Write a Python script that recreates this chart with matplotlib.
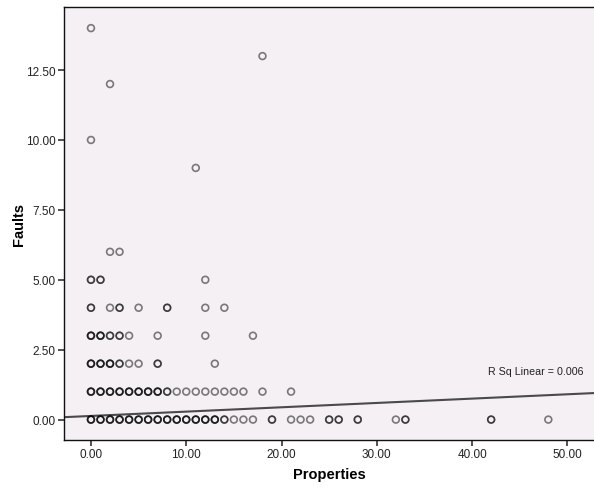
import numpy as np
import matplotlib
matplotlib.use('Agg')
import matplotlib.pyplot as plt

plt.rcParams['font.family'] = ['Liberation Sans', 'DejaVu Sans']

# properties values per faults level, and how many cases sit on each spot
f0_props = [0, 1, 2, 3, 4, 5, 6, 7, 8, 9, 10, 11, 12, 13, 14, 15, 16, 17,
            19, 21, 22, 23, 25, 26, 28, 32, 33, 42, 48]
f0_count = [3, 3, 3, 3, 3, 3, 3, 3, 3, 3, 3, 3, 3, 3, 2, 1, 1, 1,
            2, 1, 1, 1, 2, 2, 2, 1, 2, 2, 1]
f1_props = [0, 1, 2, 3, 4, 5, 6, 7, 8, 9, 10, 11, 12, 13, 14, 15, 16, 18, 21]
f1_count = [3, 3, 3, 3, 3, 3, 3, 3, 2, 1, 1, 1, 1, 1, 1, 1, 1, 1, 1]
f2_props = [0, 1, 2, 3, 4, 5, 7, 13]
f2_count = [3, 3, 3, 2, 1, 1, 2, 1]
f3_props = [0, 1, 2, 3, 4, 7, 12, 17]
f3_count = [3, 3, 2, 2, 1, 1, 1, 1]
f4_props = [0, 2, 3, 5, 8, 12, 14]
f4_count = [2, 1, 2, 1, 2, 1, 1]
f5_props = [0, 1, 12]
f5_count = [2, 2, 1]
f6_props = [2, 3]
f6_count = [1, 1]
high_props = [11, 0, 2, 18, 0]
high_faults = [9, 10, 12, 13, 14]

# fitted linear line
fit_intercept = 0.13
fit_slope = 0.0155
r_sq = 0.006

rows = [(0, f0_props, f0_count), (1, f1_props, f1_count), (2, f2_props, f2_count),
        (3, f3_props, f3_count), (4, f4_props, f4_count), (5, f5_props, f5_count),
        (6, f6_props, f6_count)]

xs, ys = [], []
for fval, props, counts in rows:
    for p, c in zip(props, counts):
        xs += [p] * c
        ys += [fval] * c
xs += high_props
ys += high_faults

fig = plt.figure(figsize=(5.94, 4.89), dpi=100)
ax = fig.add_axes([64 / 594, 1 - 441 / 489, 531 / 594, 433 / 489])
ax.set_facecolor('#F4F0F4')

ax.scatter(xs, ys, s=24, facecolors='none', edgecolors=(0, 0, 0, 0.5),
           linewidths=1.2, zorder=3)

xlim = (-2.83, 52.9)
ylim = (-0.73, 14.755)
lx = np.array(xlim)
ax.plot(lx, fit_intercept + fit_slope * lx, color='#4a4a4a', lw=1.5, zorder=2)
ax.text(51.65, 1.72, 'R Sq Linear = %.3f' % r_sq, fontsize=7.7,
        ha='right', va='center', color='#222222')

ax.set_xlim(*xlim)
ax.set_ylim(*ylim)
ax.set_xticks(np.arange(0, 51, 10))
ax.set_yticks(np.arange(0, 12.6, 2.5))
ax.xaxis.set_major_formatter(matplotlib.ticker.FormatStrFormatter('%.2f'))
ax.yaxis.set_major_formatter(matplotlib.ticker.FormatStrFormatter('%.2f'))
ax.tick_params(direction='out', length=4, width=1.2, color='#333333',
               labelsize=8.5, labelcolor='#222222', pad=2)
for sp in ax.spines.values():
    sp.set_color('#111111')
    sp.set_linewidth(1.0)

ax.set_xlabel('Properties', fontsize=10.5, fontweight='bold', labelpad=5)
ax.set_ylabel('Faults', fontsize=10.5, fontweight='bold', labelpad=0)

fig.savefig('out.png', dpi=100, facecolor='white')
